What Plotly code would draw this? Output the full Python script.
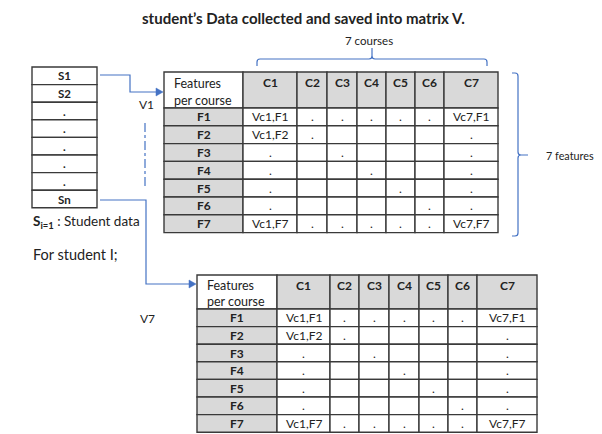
import plotly.graph_objects as go

# ---------------- data ----------------
title_text = "student’s Data collected and saved into matrix V."
students = ["S1", "S2", ".", ".", ".", ".", ".", "Sn"]
courses = ["C1", "C2", "C3", "C4", "C5", "C6", "C7"]
features = ["F1", "F2", "F3", "F4", "F5", "F6", "F7"]
corner_label = ["Features", "per course"]
cell_values = [
    ["Vc1,F1", ".", ".", ".", ".", ".", "Vc7,F1"],
    ["Vc1,F2", ".", "", "", "", "", "."],
    [".", "", ".", "", "", "", "."],
    [".", "", "", ".", "", "", "."],
    [".", "", "", "", ".", "", "."],
    [".", "", "", "", "", ".", "."],
    ["Vc1,F7", ".", ".", ".", ".", ".", "Vc7,F7"],
]
matrix_labels = ["V1", "V7"]
courses_label = "7 courses"
features_label = "7 features"
legend_label = "<b>S<sub>i=1</sub></b> : Student data"
for_label = "For student I;"

# ---------------- styles ----------------
FONT = "Lato, Carlito, Calibri, sans-serif"
BLUE = "#4472c4"
GRID = "#3a3a3a"
GRAY = "#d9d9d9"
TXT = "#222222"

W, H = 602, 434
OFF = 8  # page body margin
shapes = []
annotations = []


def text(x, y, s, size=11.5, bold=False, xanchor="center", color=TXT):
    annotations.append(dict(
        x=x, y=y, xref="x", yref="y", text=(f"<b>{s}</b>" if bold else s),
        showarrow=False, xanchor=xanchor, yanchor="middle",
        font=dict(family=FONT, size=size, color=color)))


def rect(x0, y0, x1, y1, fill="white", line=GRID, width=1.4):
    shapes.append(dict(type="rect", xref="x", yref="y", x0=x0, y0=y0, x1=x1, y1=y1,
                       fillcolor=fill, line=dict(color=line, width=width), layer="above"))


def draw_table(xe, ytop, hh, rh):
    rect(xe[0], ytop, xe[1], ytop + hh, fill="white")
    text(xe[0] + 8, ytop + hh * 0.32, corner_label[0], size=12.5, xanchor="left")
    text(xe[0] + 8, ytop + hh * 0.78, corner_label[1], size=12.5, xanchor="left")
    for j, c in enumerate(courses):
        rect(xe[j + 1], ytop, xe[j + 2], ytop + hh, fill=GRAY)
        text((xe[j + 1] + xe[j + 2]) / 2, ytop + hh * 0.3, c, size=12, bold=True)
    for i, f in enumerate(features):
        y0 = ytop + hh + i * rh
        y1 = y0 + rh
        rect(xe[0], y0, xe[1], y1, fill=GRAY)
        text((xe[0] + xe[1]) / 2, (y0 + y1) / 2, f, size=12, bold=True)
        for j in range(len(courses)):
            rect(xe[j + 1], y0, xe[j + 2], y1, fill="white")
            v = cell_values[i][j]
            if v:
                text((xe[j + 1] + xe[j + 2]) / 2, (y0 + y1) / 2, v, size=12)


# ---------------- title ----------------
text(303, 18, title_text, size=15, bold=True)

# ---------------- student list ----------------
sx0, sx1, sy0, srh = 32, 97, 67, 17.6
for i, s in enumerate(students):
    y0 = sy0 + i * srh
    rect(sx0, y0, sx1, y0 + srh, fill="white", width=1.4)
    text((sx0 + sx1) / 2, y0 + srh / 2, s, size=11.5, bold=True)

text(31, 222, legend_label, size=13.5, xanchor="left")
text(31, 254, for_label, size=14.5, xanchor="left")

# ---------------- tables ----------------
top_x = [164, 243, 297, 327, 357, 386, 415, 444, 498]
bot_x = [197, 277, 330, 359, 389, 419, 448, 477, 537]
draw_table(top_x, 72, 36, 17.8)
draw_table(bot_x, 275, 34, 17.6)

text(146, 104, matrix_labels[0], size=12)
text(147, 318, matrix_labels[1], size=12)

# ---------------- connectors ----------------
line_style = dict(color=BLUE, width=1.2)
shapes.append(dict(type="path", xref="x", yref="y", path="M 100 75 H 130 V 92 H 157",
                   line=line_style, layer="above"))
shapes.append(dict(type="path", xref="x", yref="y", path="M 100 200 H 146 V 284 H 190",
                   line=line_style, layer="above"))
shapes.append(dict(type="line", xref="x", yref="y", x0=145, y0=123, x1=145, y1=186,
                   line=dict(color=BLUE, width=1.2, dash="dashdot"), layer="above"))
for (xt, yt) in [(163, 92), (196, 284)]:
    shapes.append(dict(type="path", xref="x", yref="y",
                       path=f"M {xt-7} {yt-4} L {xt} {yt} L {xt-7} {yt+4} Z",
                       fillcolor=BLUE, line=dict(color=BLUE, width=0.5), layer="above"))

# top brace
shapes.append(dict(type="path", xref="x", yref="y",
                   path=("M 257 66 L 257 62 Q 257 59 260 59 L 369 59 Q 372 59 372 56 L 372 48 "
                         "M 372 56 Q 372 59 375 59 L 484 59 Q 487 59 487 62 L 487 66"),
                   line=line_style, layer="above"))
text(369, 40, courses_label, size=11.5)

# right brace
shapes.append(dict(type="path", xref="x", yref="y",
                   path=("M 512 73 L 515 73 Q 518 73 518 76 L 518 152 Q 518 155 521 155 L 528 155 "
                         "M 521 155 Q 518 155 518 158 L 518 233 Q 518 236 515 236 L 512 236"),
                   line=line_style, layer="above"))
text(544, 155, features_label, size=10.8, xanchor="left")

fig = go.Figure()
fig.update_layout(
    width=W - OFF, height=H - OFF, margin=dict(l=0, r=0, t=0, b=0),
    paper_bgcolor="white", plot_bgcolor="white",
    xaxis=dict(range=[OFF, W], visible=False, fixedrange=True),
    yaxis=dict(range=[H, OFF], visible=False, fixedrange=True),
    shapes=shapes, annotations=annotations, showlegend=False,
)
fig.write_html("out.html")
